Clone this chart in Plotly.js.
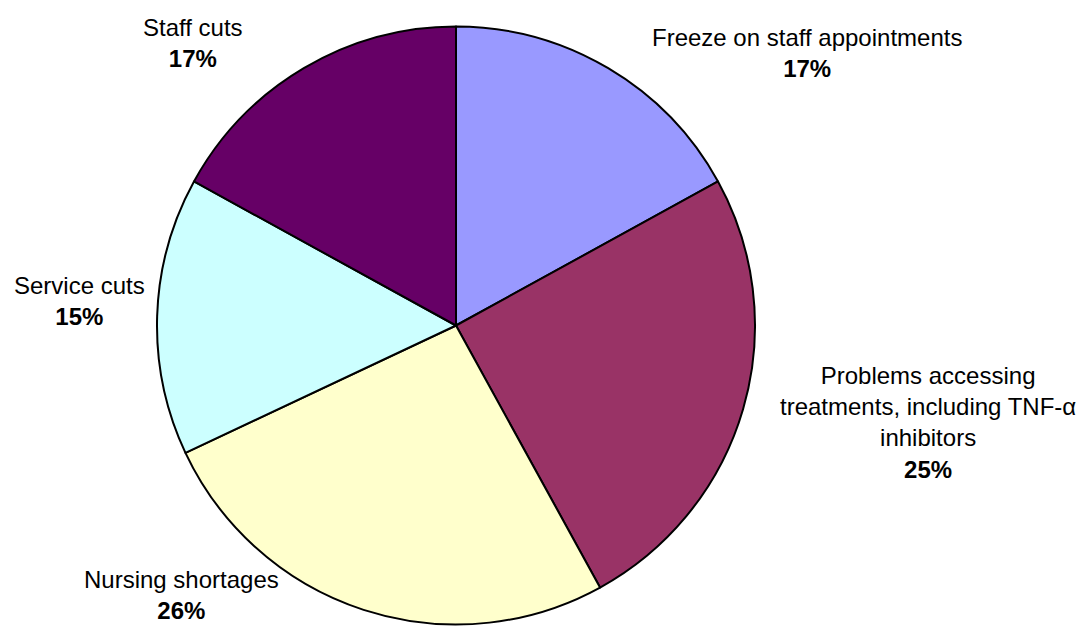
<!DOCTYPE html>
<html>
<head>
<meta charset="utf-8">
<script src="https://cdn.plot.ly/plotly-3.0.1.min.js"></script>
<style>html,body{margin:0;padding:0;background:#fff;}#chart{width:1090px;height:626px;}</style>
</head>
<body>
<div id="chart"></div>
<script>
// ---- data ----
const categories = [
  "Freeze on staff appointments",
  "Problems accessing treatments, including TNF-α inhibitors",
  "Nursing shortages",
  "Service cuts",
  "Staff cuts"
];
const displayLabels = [
  "Freeze on staff appointments",
  "Problems accessing<br>treatments, including TNF-α<br>inhibitors",
  "Nursing shortages",
  "Service cuts",
  "Staff cuts"
];
const shares = [17, 25, 26, 15, 17];
const sliceColors = ["#9999FF", "#993366", "#FFFFCC", "#CCFFFF", "#660066"];

// ---- label placement (layout only, paper pixels) ----
const labelPos = [
  {x: 807, y: 53},
  {x: 928, y: 423},
  {x: 181, y: 595},
  {x: 79, y: 301},
  {x: 193, y: 43}
];

const W = 1090, H = 626;
const total = shares.reduce((a, b) => a + b, 0);
const FONT = '"Liberation Sans", Arial, Helvetica, sans-serif';

const annotations = categories.map((c, i) => ({
  xref: 'paper', yref: 'paper',
  x: labelPos[i].x / W,
  y: 1 - labelPos[i].y / H,
  xanchor: 'center', yanchor: 'middle',
  showarrow: false,
  align: 'center',
  text: displayLabels[i] + '<br><b>' + Math.round(shares[i] / total * 100) + '%</b>',
  font: {family: FONT, size: 24, color: '#000'}
}));

const trace = {
  type: 'pie',
  labels: categories,
  values: shares,
  sort: false,
  direction: 'clockwise',
  rotation: 0,
  textinfo: 'none',
  hoverinfo: 'label+percent',
  marker: {colors: sliceColors, line: {color: '#000', width: 2}},
  domain: {x: [157 / W, 755 / W], y: [1 - 624.5 / H, 1 - 26.5 / H]},
  showlegend: false
};

const layout = {
  width: W, height: H,
  margin: {l: 0, r: 0, t: 0, b: 0},
  paper_bgcolor: '#fff',
  plot_bgcolor: '#fff',
  showlegend: false,
  font: {family: FONT, size: 24, color: '#000'},
  annotations: annotations
};

Plotly.newPlot('chart', [trace], layout, {displayModeBar: false, staticPlot: true});
</script>
</body>
</html>
